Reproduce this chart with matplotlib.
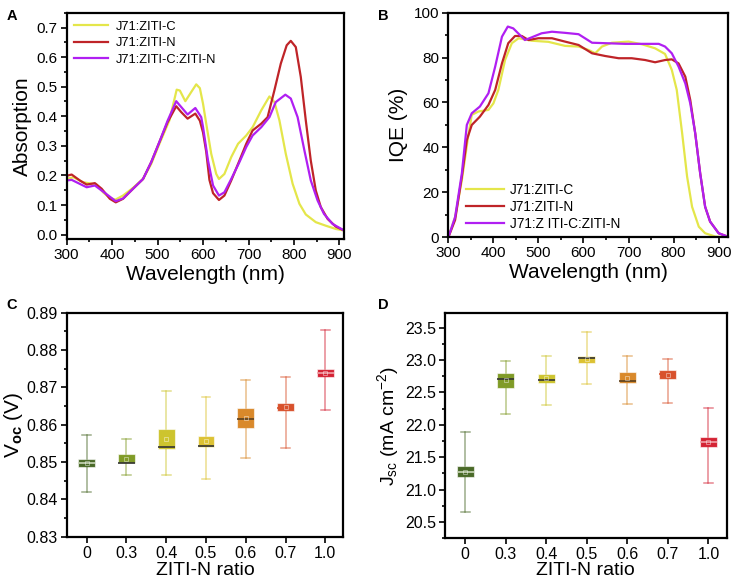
import numpy as np
import matplotlib
matplotlib.use('Agg')
import matplotlib.pyplot as plt
from matplotlib.ticker import MultipleLocator

plt.rcParams['font.family'] = ['Liberation Sans', 'DejaVu Sans']
plt.rcParams['mathtext.fontset'] = 'custom'
plt.rcParams['mathtext.rm'] = 'Liberation Sans'
plt.rcParams['mathtext.it'] = 'Liberation Sans:italic'
plt.rcParams['mathtext.bf'] = 'Liberation Sans:bold'

# ---- panel A: absorption ----
abs_c_wl = [300, 315, 336, 355, 366, 380, 395, 407, 424, 446, 468, 486, 504, 526, 542, 549, 561, 574, 585,
            593, 600, 607, 618, 629, 635, 647, 662, 677, 695, 709, 728, 746, 757, 768, 782, 797, 812, 826,
            848, 870, 892, 910]
abs_c = [0.188, 0.194, 0.177, 0.172, 0.169, 0.143, 0.124, 0.118, 0.132, 0.158, 0.188, 0.239, 0.307, 0.386,
         0.490, 0.487, 0.451, 0.482, 0.508, 0.495, 0.442, 0.375, 0.273, 0.205, 0.188, 0.205, 0.262, 0.307,
         0.335, 0.363, 0.420, 0.467, 0.448, 0.386, 0.273, 0.172, 0.104, 0.068, 0.042, 0.030, 0.019, 0.014]

abs_n_wl = [300, 311, 329, 344, 362, 377, 395, 408, 424, 446, 468, 486, 504, 522, 541, 552, 566, 583, 593,
            600, 607, 614, 622, 635, 647, 662, 680, 695, 709, 728, 742, 757, 771, 784, 793, 804, 815, 826,
            837, 848, 859, 874, 892, 910]
abs_n = [0.199, 0.203, 0.183, 0.169, 0.174, 0.155, 0.121, 0.109, 0.121, 0.155, 0.188, 0.245, 0.313, 0.380,
         0.434, 0.414, 0.392, 0.409, 0.385, 0.345, 0.280, 0.185, 0.140, 0.117, 0.132, 0.183, 0.250, 0.307,
         0.352, 0.375, 0.397, 0.488, 0.578, 0.640, 0.655, 0.634, 0.533, 0.386, 0.250, 0.149, 0.093, 0.053,
         0.027, 0.014]

abs_cn_wl = [300, 311, 344, 362, 377, 408, 424, 446, 468, 486, 504, 522, 541, 566, 583, 596, 600, 611, 622,
             635, 647, 662, 680, 695, 709, 728, 746, 760, 781, 793, 808, 823, 837, 852, 866, 885, 910]
abs_cn = [0.183, 0.185, 0.160, 0.166, 0.149, 0.113, 0.122, 0.155, 0.188, 0.245, 0.313, 0.385, 0.451, 0.406,
          0.428, 0.397, 0.363, 0.250, 0.166, 0.132, 0.143, 0.188, 0.245, 0.296, 0.335, 0.363, 0.397, 0.448,
          0.473, 0.460, 0.397, 0.284, 0.183, 0.115, 0.070, 0.036, 0.014]

# ---- panel B: IQE ----
iqe_c_wl = [300, 315, 330, 344, 352, 367, 389, 400, 411, 426, 441, 456, 485, 522, 559, 589, 611, 626, 641,
            663, 700, 730, 759, 781, 796, 807, 819, 830, 841, 856, 870, 893, 920]
iqe_c = [0, 9, 25.5, 45, 54.5, 56, 56.7, 59.6, 65.6, 79, 86.4, 88.6, 87.5, 87, 85.2, 84.9, 83.4, 81.9, 84.9,
         86.6, 87.1, 85.9, 84.1, 81.6, 74.5, 65.6, 46.3, 27, 13.6, 4.7, 1.8, 0.3, 0]

iqe_n_wl = [300, 315, 330, 341, 352, 370, 389, 404, 419, 433, 448, 463, 478, 500, 530, 559, 589, 619, 648,
            678, 707, 737, 759, 781, 796, 811, 826, 837, 848, 859, 870, 881, 900, 920]
iqe_n = [0, 7.7, 27, 43.3, 50, 53.7, 58.9, 65.6, 77.4, 86.4, 89.6, 89.6, 87.8, 88.6, 88.6, 87.1, 85.6, 81.9,
         80.7, 79.7, 79.7, 78.9, 77.9, 78.9, 79.2, 77.4, 71.5, 61.1, 46.3, 28.5, 13.6, 7, 1.8, 0.3]

iqe_cn_wl = [300, 315, 330, 341, 352, 370, 389, 404, 419, 432, 444, 459, 470, 485, 507, 530, 559, 589, 619,
             648, 693, 737, 767, 781, 796, 811, 826, 837, 848, 859, 870, 881, 900, 920]
iqe_cn = [0, 9, 28.5, 50, 55.2, 58.2, 64.1, 76, 89.3, 93.8, 93, 90, 87.8, 89, 90.8, 91.5, 91, 90.4, 86.6,
          86.4, 86.1, 86.1, 86.1, 84.9, 81.9, 76, 68.5, 59.6, 46.3, 28.5, 13.6, 7, 1.8, 0.3]

# ---- panels C and D: box statistics ----
ratios = ['0', '0.3', '0.4', '0.5', '0.6', '0.7', '1.0']
voc_lo = [0.8419, 0.8466, 0.8466, 0.8454, 0.8510, 0.8538, 0.8638]
voc_q1 = [0.8487, 0.8497, 0.8534, 0.8541, 0.8592, 0.8636, 0.8727]
voc_med = [0.8497, 0.8498, 0.8539, 0.8543, 0.8614, 0.8645, 0.8738]
voc_q3 = [0.8507, 0.8521, 0.8588, 0.8570, 0.8644, 0.8657, 0.8749]
voc_hi = [0.8572, 0.8563, 0.8689, 0.8674, 0.8720, 0.8728, 0.8854]
voc_mean = [0.8497, 0.8508, 0.8561, 0.8555, 0.8619, 0.8647, 0.8738]

jsc_lo = [20.66, 22.17, 22.31, 22.63, 22.32, 22.33, 21.11]
jsc_q1 = [21.19, 22.57, 22.64, 22.96, 22.64, 22.71, 21.66]
jsc_med = [21.27, 22.71, 22.69, 23.03, 22.67, 22.78, 21.73]
jsc_q3 = [21.36, 22.80, 22.79, 23.06, 22.82, 22.84, 21.81]
jsc_hi = [21.89, 22.98, 23.06, 23.43, 23.06, 23.02, 22.26]
jsc_mean = [21.27, 22.69, 22.72, 23.01, 22.72, 22.77, 21.73]

box_colors = ['#4a6a28', '#809b27', '#cdc42e', '#dcc233', '#d9892b', '#d8512c', '#d42334']
median_colors = ['#c9d6b8', '#333333', '#333333', '#333333', '#5a4020', '#d8512c', '#f0a0a8']

col_c = '#e4e64a'
col_n = '#bf2428'
col_cn = '#b01ff2'


def style_axes(ax, fs=11):
    for s in ax.spines.values():
        s.set_linewidth(1.6)
    ax.tick_params(which='both', direction='out', top=False, right=False, labelsize=fs, width=1.2, pad=2.5)
    ax.tick_params(which='major', length=4)
    ax.tick_params(which='minor', length=2.5)


fig = plt.figure(figsize=(7.35, 5.82), dpi=100)

# A
axA = fig.add_axes([0.0907, 0.5893, 0.3773, 0.3888])
axA.plot(abs_c_wl, abs_c, color=col_c, lw=1.6, label='J71:ZITI-C')
axA.plot(abs_n_wl, abs_n, color=col_n, lw=1.6, label='J71:ZITI-N')
axA.plot(abs_cn_wl, abs_cn, color=col_cn, lw=1.6, label='J71:ZITI-C:ZITI-N')
axA.set_xlim(300, 910)
axA.set_ylim(-0.015, 0.75)
axA.xaxis.set_major_locator(MultipleLocator(100))
axA.xaxis.set_minor_locator(MultipleLocator(50))
axA.yaxis.set_major_locator(MultipleLocator(0.1))
axA.yaxis.set_minor_locator(MultipleLocator(0.05))
axA.yaxis.set_major_formatter(plt.FormatStrFormatter('%.1f'))
axA.set_xlabel('Wavelength (nm)', fontsize=15, labelpad=2)
axA.set_ylabel('Absorption', fontsize=15, labelpad=3)
style_axes(axA)
axA.legend(loc='upper left', frameon=False, fontsize=9.3, handlelength=2.6, handletextpad=0.6,
           labelspacing=0.35, borderaxespad=0.2, bbox_to_anchor=(0.0, 1.0))

# B
axB = fig.add_axes([0.610, 0.5923, 0.380, 0.386])
axB.plot(iqe_c_wl, iqe_c, color=col_c, lw=1.6, label='J71:ZITI-C')
axB.plot(iqe_n_wl, iqe_n, color=col_n, lw=1.6, label='J71:ZITI-N')
axB.plot(iqe_cn_wl, iqe_cn, color=col_cn, lw=1.6, label='J71:Z ITI-C:ZITI-N')
axB.set_xlim(300, 920)
axB.set_ylim(0, 100)
axB.xaxis.set_major_locator(MultipleLocator(100))
axB.xaxis.set_minor_locator(MultipleLocator(50))
axB.yaxis.set_major_locator(MultipleLocator(20))
axB.yaxis.set_minor_locator(MultipleLocator(10))
axB.set_xlabel('Wavelength (nm)', fontsize=15, labelpad=2)
axB.set_ylabel('IQE (%)', fontsize=15)
style_axes(axB)
axB.legend(loc='lower left', frameon=False, fontsize=9.8, handlelength=2.8, handletextpad=0.4,
           labelspacing=0.22, bbox_to_anchor=(0.02, -0.025))


def draw_boxes(ax, lo, q1, med, q3, hi, mean):
    stats = []
    for i in range(len(ratios)):
        stats.append(dict(whislo=lo[i], q1=q1[i], med=med[i], q3=q3[i], whishi=hi[i],
                          mean=mean[i], fliers=[], label=ratios[i]))
    pos = np.arange(len(ratios))
    bp = ax.bxp(stats, positions=pos, widths=0.42, capwidths=0.22, patch_artist=True,
                showmeans=True, showfliers=False, manage_ticks=False)
    for i, c in enumerate(box_colors):
        light = matplotlib.colors.to_rgba(c, 0.55)
        bp['boxes'][i].set_facecolor(c)
        bp['boxes'][i].set_edgecolor((1, 1, 1, 0.6))
        bp['boxes'][i].set_linewidth(0.8)
        for art in bp['whiskers'][2 * i:2 * i + 2] + bp['caps'][2 * i:2 * i + 2]:
            art.set_color(light)
            art.set_linewidth(1.1)
        bp['medians'][i].set_color(median_colors[i])
        bp['medians'][i].set_linewidth(1.2)
        bp['means'][i].set(marker='s', markersize=3, markerfacecolor='none',
                           markeredgecolor=(1, 1, 1, 0.5), markeredgewidth=0.6)
    ax.set_xticks(pos)
    ax.set_xticklabels(ratios)
    ax.set_xlim(-0.5, 6.45)


# C
axC = fig.add_axes([0.0907, 0.0778, 0.3763, 0.385])
draw_boxes(axC, voc_lo, voc_q1, voc_med, voc_q3, voc_hi, voc_mean)
axC.set_ylim(0.83, 0.89)
axC.yaxis.set_major_locator(MultipleLocator(0.01))
axC.yaxis.set_minor_locator(MultipleLocator(0.005))
axC.yaxis.set_major_formatter(plt.FormatStrFormatter('%.2f'))
axC.set_xlabel('ZITI-N ratio', fontsize=14, labelpad=1)
axC.set_ylabel(r'V$_{\mathbf{oc}}$ (V)', fontsize=15, labelpad=1)
style_axes(axC, fs=11.5)

# D
axD = fig.add_axes([0.6054, 0.0751, 0.3833, 0.3876])
draw_boxes(axD, jsc_lo, jsc_q1, jsc_med, jsc_q3, jsc_hi, jsc_mean)
axD.set_ylim(20.25, 23.73)
axD.yaxis.set_major_locator(MultipleLocator(0.5))
axD.yaxis.set_minor_locator(MultipleLocator(0.25))
axD.yaxis.set_major_formatter(plt.FormatStrFormatter('%.1f'))
axD.set_xlabel('ZITI-N ratio', fontsize=14, labelpad=0)
axD.set_ylabel(r'J$_{\rm sc}$ (mA cm$^{-2}$)', fontsize=14, labelpad=3)
style_axes(axD, fs=11.5)

for lab, x, y in [('A', 0.009, 0.985), ('B', 0.514, 0.985), ('C', 0.009, 0.488), ('D', 0.514, 0.488)]:
    fig.text(x, y, lab, fontsize=10.5, fontweight='bold', va='top', ha='left')

fig.savefig('out.png', dpi=100)
